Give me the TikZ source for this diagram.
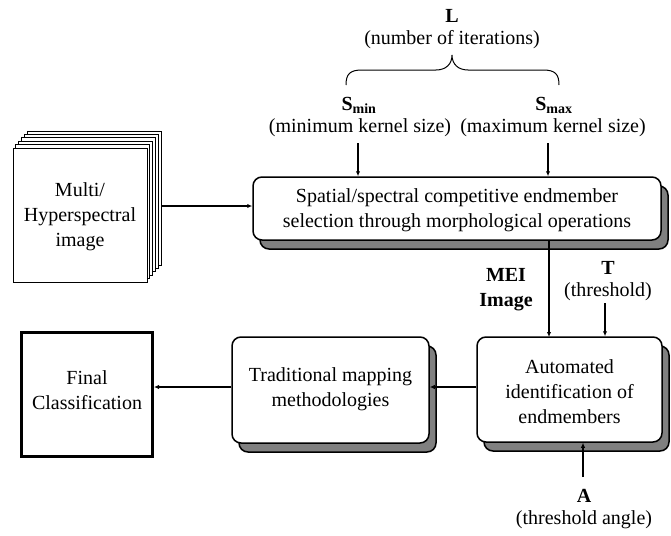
\documentclass[tikz,border=0pt]{standalone}
\usepackage{fontspec}
\setmainfont{Liberation Serif}
\usetikzlibrary{arrows.meta,shadows,decorations.pathreplacing}
\begin{document}
\begin{tikzpicture}[x=1pt,y=-1pt,
  txt/.style={font=\fontsize{20}{25}\selectfont, align=center, inner sep=0pt},
  rbox/.style={draw=black, line width=1.5pt, rounded corners=9pt, fill=white,
     inner sep=0pt,
     drop shadow={shadow xshift=7pt, shadow yshift=-9pt, fill=black!50, draw=black, line width=1.5pt, opacity=1}},
  page/.style={draw=black, line width=1pt, fill=white},
  conn/.style={line width=1.6pt, -{Latex[length=5pt,width=4.5pt]}},
  lbl/.style={font=\fontsize{20}{25}\selectfont\bfseries, inner sep=0pt}
]
\useasboundingbox (0,0) rectangle (671,535);

% stack of pages
\foreach \k in {5,4,3,2,1}{
  \draw[page] (13+2.8*\k,148-3.4*\k) rectangle (147+2.8*\k,282-3.4*\k);
}
\node[page, minimum width=134pt, minimum height=134pt, inner sep=0pt] (multi) at (80,215) {};
\node[txt] (multitxt) at (80,217) {Multi/\\Hyperspectral\\image};
\coordinate (multiout) at (161,206);

% main box
\node[rbox, minimum width=408pt, minimum height=63pt] (main) at (457,208.5) {};
\node[txt] (maintxt) at (457,210.5) {Spatial/spectral competitive endmember\\selection through morphological operations};

% automated box
\node[rbox, minimum width=185pt, minimum height=105pt] (auto) at (569.5,389.5) {};
\node[txt] (autotxt) at (569.5,392) {Automated\\identification of\\endmembers};

% traditional box
\node[rbox, minimum width=197pt, minimum height=106pt] (trad) at (330.5,390) {};
\node[txt] (tradtxt) at (330.5,389.5) {Traditional mapping\\methodologies};

% final box
\node[draw=black, line width=3pt, minimum width=131pt, minimum height=124pt, inner sep=0pt] (final) at (87,394.5) {};
\node[txt] (finaltxt) at (87,390.5) {Final\\Classification};

% labels
\node[lbl] (L) at (452,16) {L};
\node[txt] (Ltxt) at (452,40) {(number of iterations)};
\node[lbl, anchor=base] (smin) at (359,110) {S\textsubscript{min}};
\node[txt] (smintxt) at (360,128) {(minimum kernel size)};
\node[lbl, anchor=base] (smax) at (554,110) {S\textsubscript{max}};
\node[txt] (smaxtxt) at (553,128) {(maximum kernel size)};
\node[lbl, align=center] (mei) at (506,290) {MEI\\Image};
\node[lbl] (T) at (608,268) {T};
\node[txt] (Ttxt) at (608,292) {(threshold)};
\node[lbl] (A) at (584,496) {A};
\node[txt] (Atxt) at (584,520) {(threshold angle)};

% brace
\draw[line width=1pt] (346,85) .. controls (346,74) and (350,70) .. (362,70)
  -- (436,70) .. controls (446,70) and (452,64) .. (452,55)
  .. controls (452,64) and (458,70) .. (468,70)
  -- (543,70) .. controls (555,70) and (559,74) .. (559,85);

% connectors
\coordinate (sminfrom) at (358,143);
\coordinate (smaxfrom) at (548,143);
\coordinate (tfrom) at (605,303);
\coordinate (afrom) at (583,477);
\draw[conn] (sminfrom) -- (sminfrom |- main.north);
\draw[conn] (smaxfrom) -- (smaxfrom |- main.north);
\draw[conn] (multiout) -- (multiout -| main.west);
\draw[conn] (549,240) -- (549,337);
\draw[conn] (tfrom) -- (tfrom |- auto.north);
\draw[conn] (afrom) -- (afrom |- auto.south);
\draw[conn] (auto.west |- 0,387) -- (trad.east |- 0,387);
\draw[conn] (trad.west |- 0,387) -- (final.east |- 0,387);
\end{tikzpicture}
\end{document}
